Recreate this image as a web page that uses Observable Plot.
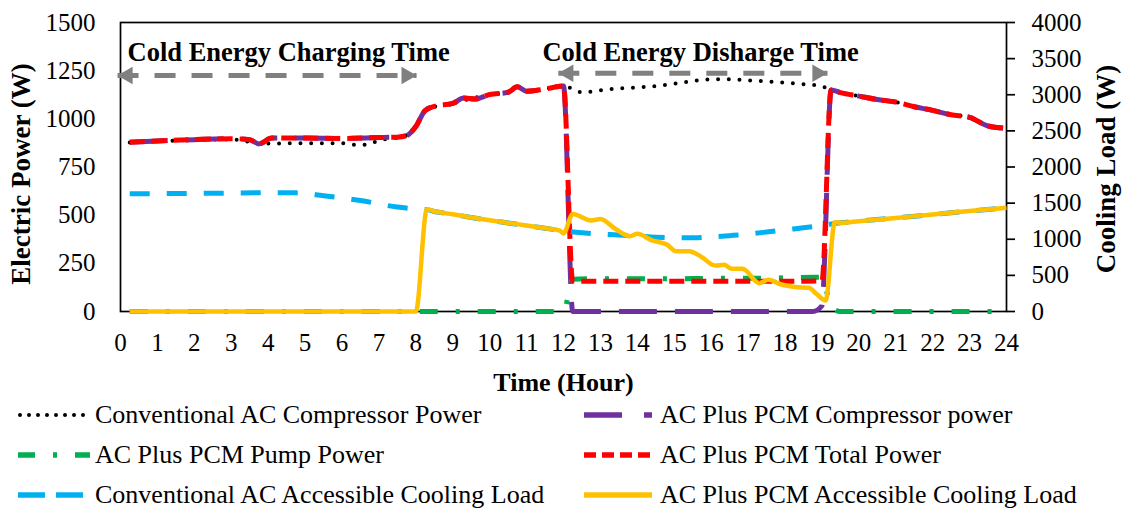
<!DOCTYPE html>
<html><head><meta charset="utf-8">
<script src="https://cdn.jsdelivr.net/npm/d3@7"></script>
<script src="https://cdn.jsdelivr.net/npm/@observablehq/plot@0.6"></script>
<style>
body{margin:0;background:#fff;font-family:"Liberation Serif","Times New Roman",Times,"DejaVu Serif","Noto Serif",serif;}
#wrap{position:relative;width:1125px;height:508px;overflow:hidden;}
#legend{position:absolute;left:0;top:395px;width:1125px;height:113px;}
.item{position:absolute;height:40px;font-size:26px;color:#000;white-space:nowrap;}
.item svg{position:absolute;top:0;}
.item span{position:absolute;top:50%;transform:translateY(-50%);line-height:1;}
</style></head><body><div id="wrap"><div id="chart"></div><div id="legend"></div></div>
<script>
// ---------- DATA ----------
const hourTicks = d3.range(0, 25);
const leftTicks = [0, 250, 500, 750, 1000, 1250, 1500];
const rightTicks = [0, 500, 1000, 1500, 2000, 2500, 3000, 3500, 4000];

// Conventional AC compressor power (W, left axis)
const convCompT = [0.25,1,2,3,3.5,3.75,4,5,6,6.4,6.7,7,7.5,7.75,8,8.25,8.5,9,9.5,10,10.5,10.75,11,11.5,12,12.5,13,13.5,14,14.5,15,15.5,16,16.5,17,17.5,18,18.5,19,19.25,19.5,20,20.5,21,21.5,22,22.5,23,23.5,24];
const convCompW = [877,884,890,893,880,870,872,873,873,865,866,889,902,915,960,1043,1062,1080,1105,1125,1138,1165,1145,1155,1170,1138,1148,1158,1163,1170,1182,1196,1205,1205,1200,1194,1187,1180,1168,1150,1136,1118,1100,1087,1063,1044,1021,1008,963,951];

// AC plus PCM compressor power (W, left axis)
const pcmCompT = [0.25,1,2,3,3.5,3.75,4.1,5,6,7,7.5,7.75,8,8.25,8.5,9,9.3,9.6,10,10.5,10.75,11,11.5,12,12.25,15,18.75,19,19.25,19.5,20,20.5,21,21.5,22,22.5,23,23.5,24];
const pcmCompW = [878,885,892,897,892,870,900,900,898,903,905,913,960,1043,1065,1080,1108,1103,1126,1138,1166,1143,1155,1170,0,0,0,30,1150,1136,1118,1100,1087,1063,1044,1021,1008,963,951];

// AC plus PCM pump power (W, left axis)
const pumpT = [0.25,12,12.25,13,14,15,16,17,18,18.75,19,19.25,19.5,24];
const pumpW = [0,0,168,170,170,170,172,172,175,178,178,25,0,0];

// AC plus PCM total power (W, left axis)
const totalT = [0.25,1,2,3,3.5,3.75,4.1,5,6,7,7.5,7.75,8,8.25,8.5,9,9.3,9.6,10,10.5,10.75,11,11.5,12,12.25,13,14,15,16,17,18,19,19.25,19.5,20,20.5,21,21.5,22,22.5,23,23.5,24];
const totalW = [878,885,892,897,892,870,900,900,898,903,905,913,960,1043,1065,1080,1108,1103,1126,1138,1166,1143,1155,1170,158,157,157,157,157,157,157,158,1150,1136,1118,1100,1087,1063,1044,1021,1008,963,951];

// Conventional AC accessible cooling load (W, right axis)
const convCoolT = [0.25,1,2,3,4,4.75,5.5,6.5,7.5,8,8.3,8.5,9,9.5,10,10.5,11,11.5,12,12.5,13,13.5,14,14.5,15,15.5,16,16.5,17,17.5,18,18.5,19,19.5,20,21,22,23,24];
const convCoolW = [1630,1632,1635,1639,1643,1642,1603,1536,1445,1420,1410,1385,1345,1302,1262,1226,1190,1152,1115,1090,1072,1060,1045,1028,1020,1020,1030,1050,1072,1100,1130,1158,1190,1228,1250,1295,1343,1390,1435];

// AC plus PCM accessible cooling load (W, right axis)
const pcmCoolT = [0.25,8,8.3,8.5,9,9.5,10,10.5,11,11.5,11.9,12,12.25,12.75,13,13.4,13.8,14,14.4,14.8,15.05,15.4,15.75,16.1,16.35,16.55,16.85,17.3,17.55,17.9,18.35,18.65,18.85,19.1,19.35,19.55,20,21,22,23,24];
const pcmCoolW = [0,0,1415,1388,1345,1302,1262,1226,1190,1152,1120,1080,1350,1260,1280,1145,1042,1075,983,927,835,835,752,637,646,591,591,392,438,374,336,328,245,152,1236,1228,1250,1295,1343,1390,1435];

// annotation texts
const annotationLabels = ["Cold Energy Charging Time", "Cold Energy Disharge Time"];
const legendLabels = [
  "Conventional AC Compressor Power", "AC Plus PCM Compressor power",
  "AC Plus PCM Pump Power", "AC Plus PCM Total Power",
  "Conventional AC Accessible Cooling Load", "AC Plus PCM Accessible Cooling Load"
];

// ---------- BUILD ----------
const k = 1500 / 4000; // right axis -> left axis units
const rec = (t, v, f = 1) => t.map((x, i) => ({t: x, v: v[i] * f}));

const annotations = [
  {label: annotationLabels[0], t: 0.19, v: 1346},
  {label: annotationLabels[1], t: 11.43, v: 1346}
];
const arrows = [
  {t1: -0.08, t2: 8.02, v: 1225},
  {t1: 11.86, t2: 19.15, v: 1237}
];

const font = '"Liberation Serif","Times New Roman",Times,"DejaVu Serif","Noto Serif",serif';
const lineOpts = (stroke, w, dash, cap = "butt") => ({x: "t", y: "v", stroke, strokeWidth: w, strokeDasharray: dash, strokeLinecap: cap, strokeLinejoin: "round", curve: "monotone-x"});

const chart = Plot.plot({
  width: 1125, height: 395,
  marginLeft: 120, marginRight: 119, marginTop: 22, marginBottom: 84,
  style: {fontFamily: font, fontSize: "25px", color: "#000", background: "transparent", overflow: "visible"},
  x: {domain: [0, 24]},
  y: {domain: [0, 1500]},
  marks: [
    Plot.axisX(hourTicks, {tickSize: 0, tickPadding: 22, fontSize: 25, label: null, tickFormat: d => String(d)}),
    Plot.axisY(leftTicks, {anchor: "left", tickSize: 0, tickPadding: 25, fontSize: 25, label: null, tickFormat: d => String(d)}),
    Plot.axisY(rightTicks.map(d => d * k), {anchor: "right", tickSize: 8, tickPadding: 17, fontSize: 25, strokeWidth: 1.7, label: null, tickFormat: d => String(Math.round(d / k))}),
    Plot.frame({stroke: "#000", strokeWidth: 1.7}),
    Plot.line(rec(convCompT, convCompW), lineOpts("#000000", 4, "0,10.7", "round")),
    Plot.line(rec(pcmCompT, pcmCompW), lineOpts("#7030A0", 5, "38,18")),
    Plot.line(rec(pumpT, pumpW), lineOpts("#00B050", 5, "18,18,4,18")),
    Plot.line(rec(totalT, totalW), lineOpts("#FF0000", 5, "15,7")),
    Plot.line(rec(convCoolT, convCoolW, k), lineOpts("#00B0F0", 5, "20,17")),
    Plot.line(rec(pcmCoolT, pcmCoolW, k), lineOpts("#FFC000", 4.5, null)),
    Plot.link(arrows, {x1: "t1", x2: "t2", y1: "v", y2: "v", stroke: "#808080", strokeWidth: 5, strokeDasharray: "21,16"}),
    Plot.dot(arrows, {x: "t1", y: "v", symbol: "triangle", r: 6.5, fill: "#808080", stroke: "none", rotate: -90, dx: 10}),
    Plot.dot(arrows, {x: "t2", y: "v", symbol: "triangle", r: 6.5, fill: "#808080", stroke: "none", rotate: 90, dx: -10}),
    Plot.text(annotations, {x: "t", y: "v", text: "label", textAnchor: "start", lineAnchor: "middle", fontWeight: "bold", fontSize: 26.5, fill: "#000"}),
    Plot.text(["Electric Power (W)"], {frameAnchor: "left", textAnchor: "middle", lineAnchor: "middle", dx: -99, dy: 7, rotate: -90, fontWeight: "bold", fontSize: 27, fill: "#000"}),
    Plot.text(["Cooling Load (W)"], {frameAnchor: "right", textAnchor: "middle", lineAnchor: "middle", dx: 100, dy: 2, rotate: -90, fontWeight: "bold", fontSize: 27, fill: "#000"}),
    Plot.text(["Time (Hour)"], {frameAnchor: "bottom", textAnchor: "middle", lineAnchor: "middle", dy: 71, fontWeight: "bold", fontSize: 26, fill: "#000"})
  ]
});
document.getElementById("chart").appendChild(chart);

// ---------- LEGEND ----------
const legendStyles = [
  {stroke: "#000000", w: 4, dash: "0,9", cap: "round"},
  {stroke: "#7030A0", w: 5.5, dash: "38,22", cap: "butt"},
  {stroke: "#00B050", w: 5.5, dash: "17,18,4,18", cap: "butt"},
  {stroke: "#FF0000", w: 5.5, dash: "12,6", cap: "butt"},
  {stroke: "#00B0F0", w: 5.5, dash: "27,11", cap: "butt"},
  {stroke: "#FFC000", w: 5.5, dash: "none", cap: "butt"}
];
const leg = document.getElementById("legend");
legendLabels.forEach((lab, i) => {
  const col = i % 2, row = Math.floor(i / 2);
  const s = legendStyles[i];
  const x0 = col === 0 ? 18 : 584, sw = col === 0 ? 72 : 68, tx = col === 0 ? 95 : 660;
  const div = document.createElement("div");
  div.className = "item";
  div.style.left = "0px";
  div.style.top = (row * 40) + "px";
  div.style.width = "1125px";
  const pad = s.cap === "round" ? 2 : 0;
  div.innerHTML = `<svg width="${sw + 8}" height="40" style="left:${x0 - 4}px"><line x1="${4 + pad}" x2="${4 + sw - pad}" y1="20" y2="20" stroke="${s.stroke}" stroke-width="${s.w}" stroke-dasharray="${s.dash}" stroke-linecap="${s.cap}"/></svg><span style="left:${tx}px">${lab}</span>`;
  leg.appendChild(div);
});
</script></body></html>
